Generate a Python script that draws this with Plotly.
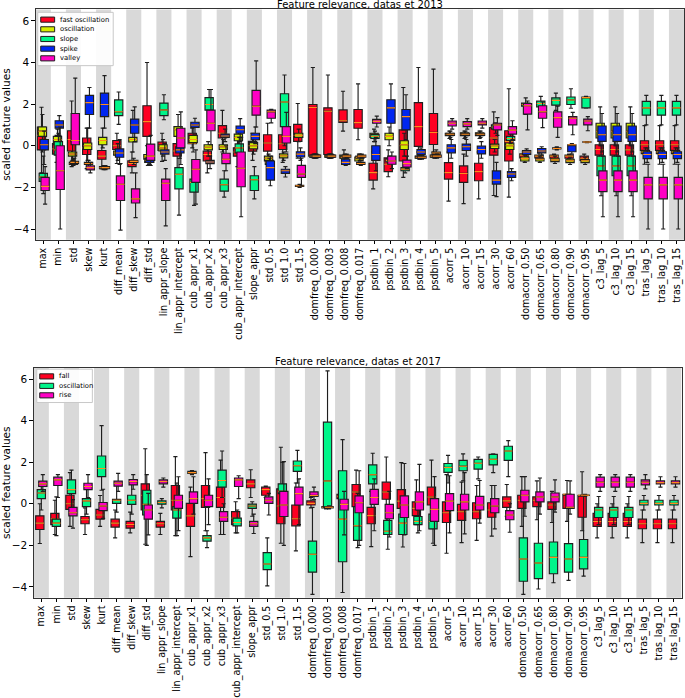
import plotly.graph_objects as go

features = ["max", "min", "std", "skew", "kurt", "diff_mean", "diff_skew", "diff_std",
            "lin_appr_slope", "lin_appr_intercept", "cub_appr_x1", "cub_appr_x2", "cub_appr_x3",
            "cub_appr_intercept", "slope_appr", "std_0.5", "std_1.0", "std_1.5",
            "domfreq_0.000", "domfreq_0.003", "domfreq_0.008", "domfreq_0.017",
            "psdbin_1", "psdbin_2", "psdbin_3", "psdbin_4", "psdbin_5",
            "acorr_5", "acorr_10", "acorr_15", "acorr_30", "acorr_60",
            "domacorr_0.50", "domacorr_0.65", "domacorr_0.80", "domacorr_0.90", "domacorr_0.95",
            "c3_lag_5", "c3_lag_10", "c3_lag_15", "tras_lag_5", "tras_lag_10", "tras_lag_15"]

# each tuple: (lower whisker, q1, median, q3, upper whisker)
fast_oscillation_2013 = [
    (-1.3, -0.2, 0.5, 0.9, 1.85), (-0.8, -0.4, -0.15, 0.1, 0.5), (-1.0, -0.25, 0.3, 0.72, 2.15),
    (-1.1, -0.42, -0.1, 0.37, 0.85), (-1.1, -0.65, -0.5, -0.23, 0.35), (-0.85, -0.18, 0.0, 0.25, 0.6),
    (-1.3, -1.0, -0.85, -0.72, -0.3), (0.0, 0.45, 1.16, 1.92, 4.0), (-0.75, -0.23, 0.0, 0.18, 0.6),
    (-1.3, -0.5, -0.25, 0.1, 0.5), (-0.1, 0.1, 0.12, 0.6, 0.85), (-1.3, -0.73, -0.42, -0.26, -0.1),
    (-0.3, 0.37, 0.6, 0.97, 1.7), (-1.0, -0.5, -0.3, -0.1, 0.3), (-0.7, -0.26, 0.0, 0.21, 0.6),
    (-0.75, -0.26, 0.13, 0.53, 1.08), (-0.8, -0.18, 0.1, 0.53, 1.2), (-0.6, 0.21, 0.5, 1.03, 2.03),
    (-0.55, -0.5, 1.84, 1.98, 3.76), (-0.5, -0.42, 1.66, 1.82, 3.4), (0.7, 1.12, 1.2, 1.72, 2.62),
    (0.29, 0.84, 1.11, 1.74, 2.97), (-2.07, -1.65, -1.29, -0.84, -0.3), (-1.49, -1.24, -0.89, -0.58, -0.2),
    (-1.52, -0.73, 0.0, 0.76, 2.8), (-0.3, -0.03, 0.92, 2.07, 3.76), (-0.3, 0.06, 0.64, 1.55, 3.68),
    (-2.66, -1.6, -1.29, -0.81, -0.3), (-2.78, -1.76, -1.33, -0.97, -0.4), (-2.55, -1.68, -1.24, -0.84, -0.3),
    (-2.39, -0.45, 0.37, 0.87, 1.63), (-2.47, -0.73, 0.21, 0.72, 2.74), (-0.65, -0.58, -0.45, -0.39, -0.3),
    (-0.65, -0.58, -0.5, -0.45, -0.35), (-0.65, -0.6, -0.5, -0.45, -0.4), (-0.65, -0.6, -0.5, -0.45, -0.4),
    (-0.8, -0.7, -0.6, -0.5, -0.4), (-0.9, -0.45, -0.18, 0.05, 0.6), (-0.9, -0.45, -0.18, 0.05, 0.6),
    (-0.9, -0.45, -0.2, 0.05, 0.6), (-0.89, -0.23, 0.05, 0.24, 0.97), (-0.89, -0.23, 0.05, 0.24, 0.97),
    (-0.89, -0.23, 0.05, 0.24, 0.97)]

oscillation_2013 = [
    (-0.3, 0.45, 0.7, 0.9, 1.5), (-0.3, 0.05, 0.3, 0.45, 0.8), (-0.7, -0.5, -0.4, -0.3, 0.2),
    (-0.7, -0.18, 0.0, 0.13, 0.85), (-0.1, 0.05, 0.25, 0.4, 0.85), (-0.7, -0.45, -0.35, -0.25, 0.1),
    (-0.3, 0.18, 0.3, 0.4, 1.7), (-0.95, -0.65, -0.55, -0.42, -0.3), (-0.5, -0.25, -0.1, 0.05, 0.3),
    (0.1, 0.45, 0.77, 0.92, 1.5), (-0.3, 0.15, 0.3, 0.5, 0.9), (-0.5, -0.2, -0.07, 0.05, 0.2),
    (-0.4, -0.18, -0.05, 0.05, 0.3), (0.0, 0.24, 0.4, 0.56, 0.9), (-0.4, -0.15, 0.0, 0.15, 0.4),
    (-0.85, -0.73, -0.6, -0.5, -0.4), (-0.7, -0.58, -0.48, -0.39, -0.3), (0.2, 0.4, 0.5, 0.6, 0.8),
    (-0.6, -0.55, -0.5, -0.45, -0.4), (-0.6, -0.55, -0.5, -0.45, -0.4), (-0.75, -0.6, -0.55, -0.45, -0.2),
    (-0.85, -0.73, -0.62, -0.54, -0.4), (0.2, 0.4, 0.5, 0.6, 0.8), (0.0, 0.29, 0.45, 0.6, 0.9),
    (-0.5, -0.18, 0.05, 0.24, 0.6), (-0.65, -0.6, -0.55, -0.5, -0.45), (-0.6, -0.55, -0.5, -0.45, -0.4),
    (0.35, 0.48, 0.55, 0.6, 0.7), (0.35, 0.48, 0.55, 0.62, 0.7), (0.35, 0.48, 0.55, 0.62, 0.7),
    (-0.3, -0.13, 0.0, 0.08, 0.3), (-0.4, -0.18, 0.0, 0.13, 0.4), (-0.8, -0.73, -0.62, -0.54, -0.45),
    (-0.8, -0.73, -0.65, -0.6, -0.5), (-0.85, -0.76, -0.68, -0.6, -0.5), (-0.9, -0.81, -0.72, -0.65, -0.55),
    (-0.9, -0.81, -0.72, -0.66, -0.55), (0.0, 0.37, 0.7, 1.08, 1.87), (0.0, 0.37, 0.7, 1.08, 1.87),
    (0.0, 0.37, 0.7, 1.08, 1.87), (-0.5, -0.38, -0.3, -0.22, -0.1), (-0.5, -0.38, -0.3, -0.22, -0.1),
    (-0.5, -0.38, -0.3, -0.22, -0.1)]

slope_2013 = [
    (-2.3, -1.71, -1.5, -1.33, -0.5), (-0.9, -0.45, -0.2, 0.2, 0.6), (-0.95, -0.9, -0.85, -0.8, -0.6),
    (-1.0, -0.9, -0.85, -0.8, -0.7), (-1.15, -1.1, -1.05, -1.0, -0.95), (1.03, 1.45, 1.63, 2.2, 2.58),
    (-0.9, -0.8, -0.75, -0.7, -0.6), (-0.9, -0.8, -0.7, -0.6, -0.5), (1.25, 1.45, 1.72, 2.05, 2.45),
    (-3.33, -2.07, -1.37, -1.05, -0.6), (-2.86, -2.23, -1.76, -1.6, -1.2), (1.2, 1.71, 1.98, 2.31, 2.7),
    (-2.47, -2.18, -1.87, -1.6, -1.2), (-0.6, -0.34, -0.1, 0.09, 0.4), (-2.55, -2.15, -1.63, -1.44, -1.0),
    (-1.0, -0.9, -0.8, -0.7, -0.6), (0.0, 0.92, 2.1, 2.5, 3.4), (-2.0, -1.95, -1.92, -1.9, -1.85),
    (-0.6, -0.55, -0.5, -0.45, -0.4), (-0.6, -0.55, -0.5, -0.45, -0.4), (-0.7, -0.6, -0.55, -0.5, -0.4),
    (-0.7, -0.6, -0.55, -0.5, -0.4), (0.2, 0.35, 0.45, 0.55, 0.7), (-0.85, -0.78, -0.7, -0.62, -0.5),
    (-1.3, -1.2, -1.12, -1.05, -0.95), (-0.65, -0.6, -0.55, -0.5, -0.45), (-0.6, -0.55, -0.5, -0.45, -0.4),
    (0.4, 0.5, 0.55, 0.6, 0.7), (0.4, 0.5, 0.55, 0.6, 0.7), (0.4, 0.5, 0.55, 0.6, 0.7),
    (0.6, 0.8, 0.9, 1.0, 1.1), (0.1, 0.25, 0.35, 0.45, 0.6), (1.5, 1.9, 1.98, 2.05, 2.3),
    (1.6, 1.87, 2.03, 2.14, 2.37), (1.7, 1.95, 2.18, 2.3, 2.53), (1.8, 1.98, 2.2, 2.34, 2.74),
    (1.8, 1.82, 2.31, 2.34, 2.37), (-2.4, -1.44, -0.97, -0.5, 0.0), (-2.4, -1.44, -0.97, -0.5, 0.0),
    (-2.4, -1.44, -0.97, -0.5, 0.0), (1.0, 1.47, 1.82, 2.13, 2.42), (1.0, 1.47, 1.82, 2.13, 2.42),
    (1.0, 1.47, 1.82, 2.13, 2.42)]

spike_2013 = [
    (-0.9, -0.2, 0.05, 0.3, 0.7), (0.5, 0.85, 1.0, 1.2, 1.45), (-0.9, -0.85, -0.8, -0.75, -0.6),
    (0.85, 1.5, 2.07, 2.42, 2.8), (0.85, 1.4, 1.98, 2.53, 3.37), (-0.9, -0.55, -0.35, -0.15, 0.3),
    (0.2, 0.6, 1.0, 1.28, 1.87), (-0.9, -0.8, -0.7, -0.6, -0.5), (-0.7, -0.4, -0.3, -0.2, 0.1),
    (-0.6, -0.35, -0.2, -0.05, 0.2), (0.5, 0.88, 1.0, 1.13, 1.32), (-1.1, -0.86, -0.78, -0.7, -0.5),
    (0.2, 0.4, 0.47, 0.56, 0.8), (0.2, 0.6, 0.77, 0.95, 1.3), (0.1, 0.29, 0.45, 0.6, 0.9),
    (-1.92, -1.65, -1.05, -0.73, -0.5), (-1.5, -1.33, -1.2, -1.13, -1.0), (-0.7, -0.54, -0.4, -0.29, -0.1),
    (-0.6, -0.55, -0.5, -0.45, -0.4), (-0.6, -0.55, -0.5, -0.45, -0.4), (-0.95, -0.9, -0.8, -0.65, -0.5),
    (-0.95, -0.9, -0.85, -0.8, -0.7), (-1.2, -0.7, -0.42, 0.0, 0.4), (0.6, 1.08, 1.82, 2.21, 2.97),
    (0.3, 0.76, 1.4, 1.74, 2.45), (-0.5, -0.42, -0.3, -0.18, -0.1), (-0.45, -0.4, -0.35, -0.3, -0.2),
    (-0.6, -0.34, -0.1, 0.05, 0.3), (-0.5, -0.23, -0.05, 0.08, 0.3), (-0.6, -0.39, -0.18, -0.02, 0.2),
    (-2.44, -1.84, -1.65, -1.21, -0.8), (-1.68, -1.52, -1.36, -1.24, -1.1), (-0.5, -0.42, -0.3, -0.23, -0.15),
    (-0.45, -0.34, -0.25, -0.13, -0.05), (-0.2, -0.15, -0.13, -0.1, -0.05), (-0.4, -0.29, 0.05, 0.05, 0.1),
    (0.15, 0.17, 0.18, 0.19, 0.2), (-0.3, 0.21, 0.53, 0.95, 1.55), (-0.3, 0.21, 0.53, 0.95, 1.55),
    (-0.3, 0.21, 0.53, 0.95, 1.55), (-0.8, -0.62, -0.42, -0.29, -0.1), (-0.8, -0.62, -0.42, -0.29, -0.1),
    (-0.8, -0.62, -0.42, -0.29, -0.1)]

valley_2013 = [
    (-2.8, -2.15, -1.95, -1.52, -1.0), (-4.0, -2.1, -1.2, 0.0, 0.9), (-0.9, 0.05, 0.25, 1.55, 3.25),
    (-1.3, -1.16, -1.05, -0.97, -0.8), (-1.15, -1.1, -1.05, -1.0, -0.95), (-4.05, -2.63, -1.85, -1.45, -0.85),
    (-3.45, -2.75, -2.55, -2.07, -1.3), (-0.95, -0.7, -0.5, 0.08, 0.5), (-3.85, -2.63, -1.8, -1.6, -1.1),
    (-0.9, -0.1, 0.37, 0.84, 1.63), (-2.8, -1.76, -1.13, -0.66, -0.2), (0.05, 0.72, 1.08, 1.71, 2.7),
    (-1.2, -0.86, -0.65, -0.36, 0.0), (-3.41, -1.97, -1.08, -0.3, 0.4), (0.9, 1.47, 1.9, 2.66, 4.08),
    (1.1, 1.32, 1.63, 1.71, 1.75), (-0.3, 0.13, 0.45, 0.92, 1.6), (-1.92, -1.52, -1.36, -0.94, -0.6),
    (-0.6, -0.55, -0.5, -0.45, -0.4), (-0.6, -0.55, -0.5, -0.45, -0.4), (-0.6, -0.55, -0.5, -0.45, -0.4),
    (-0.6, -0.55, -0.5, -0.45, -0.4), (0.9, 1.08, 1.17, 1.27, 1.42), (-1.1, -0.89, -0.73, -0.5, -0.3),
    (-1.1, -1.02, -0.86, -0.69, -0.5), (-0.65, -0.6, -0.55, -0.5, -0.45), (-0.6, -0.55, -0.5, -0.45, -0.4),
    (0.8, 0.95, 1.08, 1.19, 1.3), (0.8, 0.92, 1.05, 1.16, 1.3), (0.85, 1.0, 1.08, 1.19, 1.3),
    (0.5, 0.76, 1.0, 1.08, 1.35), (0.3, 0.56, 0.75, 0.92, 1.2), (0.76, 1.52, 1.92, 2.03, 2.15),
    (0.87, 1.32, 1.63, 1.92, 2.1), (0.4, 0.89, 1.35, 1.63, 1.9), (0.53, 1.0, 1.32, 1.4, 1.6),
    (0.72, 1.0, 1.19, 1.28, 1.4), (-3.41, -2.2, -1.65, -1.21, -0.5), (-3.41, -2.2, -1.65, -1.21, -0.5),
    (-3.41, -2.2, -1.65, -1.21, -0.5), (-4.0, -2.55, -1.88, -1.52, -0.89), (-4.0, -2.55, -1.88, -1.52, -0.89),
    (-4.0, -2.55, -1.88, -1.52, -0.89)]

fall_2017 = [
    (-1.91, -1.24, -0.93, -0.58, 0.0), (-1.48, -1.0, -0.72, -0.46, 0.17), (-1.09, -0.27, 0.0, 0.41, 1.5),
    (-1.48, -0.96, -0.77, -0.61, -0.2), (-1.09, -0.74, -0.54, -0.27, 0.4), (-1.64, -1.12, -0.93, -0.74, -0.3),
    (-1.4, -1.17, -1.0, -0.85, -0.4), (-1.95, -0.3, 0.41, 0.96, 2.65), (-1.48, -1.12, -0.96, -0.85, -0.46),
    (-1.53, -0.3, 0.17, 0.88, 2.27), (-2.54, -1.09, -0.58, 0.02, 0.8), (-1.3, -0.17, 0.25, 0.88, 2.46),
    (-1.48, -0.17, 0.3, 0.8, 2.1), (-1.4, -1.0, -0.69, -0.38, 0.1), (0.3, 0.77, 0.96, 1.15, 1.64),
    (0.3, 0.41, 0.68, 0.8, 0.85), (-1.9, -0.96, -0.11, 0.72, 2.72), (-2.27, -1.06, -0.72, -0.06, 1.0),
    (-0.2, -0.06, 0.02, 0.14, 0.3), (-0.25, -0.2, -0.17, -0.14, -0.1), (0.2, 0.25, 0.36, 0.46, 0.5),
    (-1.3, -0.14, 0.57, 0.93, 1.62), (-2.06, -0.96, -0.57, -0.17, 0.6), (-1.0, 0.22, 0.57, 1.04, 2.25),
    (-1.3, -0.22, 0.13, 0.68, 1.98), (-1.0, -0.57, -0.22, 0.09, 1.15), (-1.2, -0.06, 0.33, 0.8, 2.1),
    (-2.38, -0.9, -0.43, 0.09, 1.4), (-1.87, -0.8, -0.38, -0.03, 1.04), (-1.76, -0.72, -0.38, 0.05, 0.88),
    (-1.56, -0.65, -0.3, 0.05, 0.88), (-0.6, -0.17, 0.14, 0.33, 0.93), (-1.09, -0.22, 0.17, 0.41, 1.31),
    (-0.77, -0.14, 0.17, 0.33, 1.1), (-0.9, -0.27, -0.06, 0.09, 0.6), (-0.85, -0.22, 0.46, 0.46, 1.12),
    (-1.3, -0.65, 0.41, 0.41, 1.54), (-1.64, -1.09, -0.85, -0.46, 0.0), (-1.64, -1.09, -0.85, -0.46, 0.0),
    (-1.64, -1.09, -0.85, -0.46, 0.0), (-1.87, -1.2, -0.96, -0.74, -0.3), (-1.87, -1.2, -0.96, -0.74, -0.3),
    (-1.87, -1.2, -0.96, -0.74, -0.3)]

oscillation_2017 = [
    (-0.3, 0.25, 0.52, 0.68, 0.95), (-1.53, -1.09, -0.93, -0.74, 0.33), (-0.5, 0.49, 0.68, 1.15, 1.62),
    (-0.5, -0.14, 0.14, 0.25, 0.7), (0.65, 1.31, 1.7, 2.3, 3.76), (-0.4, 0.02, 0.17, 0.22, 0.95),
    (-0.5, -0.03, 0.17, 0.41, 0.95), (-2.0, -0.54, -0.03, 0.65, 1.4), (-0.2, -0.02, 0.06, 0.14, 0.25),
    (-1.53, -0.69, -0.3, -0.14, 1.0), (1.4, 1.46, 1.5, 1.56, 1.6), (-2.11, -1.8, -1.64, -1.53, -1.3),
    (0.3, 0.8, 1.12, 1.62, 2.54), (-1.4, -1.06, -0.9, -0.69, -0.3), (-0.6, -0.22, -0.11, -0.02, 0.1),
    (-3.95, -3.17, -2.9, -2.35, -1.64), (-0.2, 0.49, 0.6, 0.96, 2.0), (1.0, 1.56, 1.83, 2.06, 2.57),
    (-4.36, -3.29, -2.43, -1.8, -0.17), (-0.17, -0.16, 1.1, 3.93, 6.4), (-4.27, -2.79, -0.74, 1.59, 3.09),
    (-2.11, -1.76, -1.06, -0.14, 0.5), (0.3, 0.96, 1.4, 1.87, 2.43), (-2.19, -1.48, -1.32, -0.8, -0.2),
    (-2.08, -1.48, -0.93, -0.49, 0.3), (-1.4, -1.0, -0.85, -0.61, -0.3), (-1.9, -1.21, -0.85, -0.5, 0.1),
    (1.0, 1.51, 1.75, 1.94, 2.33), (1.1, 1.59, 1.81, 2.09, 2.4), (1.2, 1.67, 1.95, 2.14, 2.25),
    (1.5, 1.87, 2.14, 2.38, 2.4), (1.31, 2.09, 2.54, 2.77, 3.04), (-4.36, -3.73, -2.66, -1.64, 0.5),
    (-4.1, -3.6, -2.85, -1.9, 0.4), (-3.8, -3.37, -2.58, -1.84, 0.3), (-3.69, -3.29, -2.66, -1.92, 0.2),
    (-3.48, -3.13, -2.58, -1.72, 0.4), (-1.0, -0.66, -0.3, -0.17, 0.35), (-1.0, -0.66, -0.3, -0.17, 0.35),
    (-1.0, -0.66, -0.3, -0.17, 0.35), (-0.3, -0.06, 0.02, 0.17, 0.4), (-0.3, -0.06, 0.02, 0.17, 0.4),
    (-0.3, -0.06, 0.02, 0.17, 0.4)]

rise_2017 = [
    (0.6, 0.83, 0.96, 1.09, 1.4), (0.3, 0.88, 1.15, 1.28, 1.4), (-1.17, -0.58, -0.43, -0.17, 0.2),
    (0.3, 0.68, 0.83, 0.99, 1.4), (-0.7, -0.33, -0.11, 0.06, 0.7), (0.6, 0.85, 0.99, 1.09, 1.46),
    (0.7, 0.91, 1.07, 1.17, 1.4), (-1.5, -0.74, -0.3, -0.06, 0.5), (0.8, 0.96, 1.07, 1.15, 1.24),
    (-1.29, -0.22, 0.17, 0.41, 1.3), (-0.5, 0.02, 0.25, 0.57, 1.3), (-1.0, -0.14, 0.17, 0.41, 1.2),
    (-1.48, -0.85, -0.65, -0.38, 0.0), (0.25, 0.83, 1.15, 1.24, 1.35), (-1.43, -1.09, -0.96, -0.85, -0.5),
    (-0.54, 0.02, 0.17, 0.33, 0.5), (-2.0, -0.61, -0.06, 0.6, 2.03), (-1.0, -0.06, 0.49, 0.8, 1.2),
    (0.2, 0.36, 0.4, 0.57, 0.8), (-0.25, -0.2, -0.17, -0.14, -0.1), (-1.5, -0.3, -0.03, 0.22, 0.6),
    (-2.0, -0.43, 0.05, 0.38, 1.59), (-1.3, -0.03, 0.3, 0.69, 1.2), (-1.6, -0.72, -0.43, -0.03, 0.6),
    (-1.5, -0.66, -0.06, 0.38, 1.94), (-1.3, -0.3, 0.09, 0.57, 1.9), (-2.0, -0.85, -0.27, 0.25, 1.31),
    (-1.4, -0.33, 0.13, 0.49, 1.35), (-1.45, -0.3, 0.09, 0.46, 1.5), (-0.93, -0.3, -0.06, 0.36, 1.12),
    (-1.21, -0.43, -0.11, 0.25, 0.88), (-1.37, -0.77, -0.54, -0.33, 0.0), (-0.6, 0.09, 0.41, 0.65, 1.31),
    (-0.5, 0.09, 0.33, 0.57, 1.24), (-0.4, 0.09, 0.33, 0.52, 1.15), (-0.5, -0.22, -0.17, 0.46, 1.1),
    (0.35, 0.4, 0.41, 0.42, 0.45), (0.6, 0.8, 1.04, 1.28, 1.4), (0.6, 0.8, 1.04, 1.28, 1.4),
    (0.6, 0.8, 1.04, 1.28, 1.4), (0.72, 0.91, 1.04, 1.15, 1.4), (0.8, 0.95, 1.02, 1.1, 1.3),
    (0.8, 0.95, 1.02, 1.1, 1.3)]

classes_2013 = ["fast oscillation", "oscillation", "slope", "spike", "valley"]
series_2013 = [fast_oscillation_2013, oscillation_2013, slope_2013, spike_2013, valley_2013]
colors_2013 = ["#ff0022", "#d4ee00", "#00f58a", "#0026f0", "#ff00c4"]
offsets_2013 = [-0.12, -0.06, 0.0, 0.06, 0.12]

classes_2017 = ["fall", "oscillation", "rise"]
series_2017 = [fall_2017, oscillation_2017, rise_2017]
colors_2017 = ["#ff0022", "#00f58a", "#ff00c4"]
offsets_2017 = [-0.1, 0.0, 0.1]

BOX_W = 0.55
MEDIAN_COLOR = "#ff8c1a"
EDGE = "#1e1e1e"
FONT = "DejaVu Sans"

W, H = 685, 698
fig = go.Figure()


def add_panel(series, names, colors, offsets, xa, ya):
    idx = list(range(len(features)))
    for stats, name, col, off in zip(series, names, colors, offsets):
        pos = [i + off for i in idx]
        lo, q1, med, q3, hi = (list(v) for v in zip(*stats))
        fig.add_trace(go.Box(
            x=pos, lowerfence=lo, q1=q1, median=med, q3=q3, upperfence=hi,
            orientation="v", name=name, fillcolor=col, width=BOX_W, whiskerwidth=0.5,
            line=dict(color=EDGE, width=1.15), boxpoints=False, hoverinfo="skip",
            xaxis=xa, yaxis=ya, showlegend=False))
        # median line drawn as a flat box so it keeps the box drawing order
        fig.add_trace(go.Box(
            x=pos, lowerfence=med, q1=med, median=med, q3=med, upperfence=med,
            orientation="v", name=name + " median", fillcolor="rgba(0,0,0,0)", width=BOX_W * 0.98,
            whiskerwidth=0, line=dict(color=MEDIAN_COLOR, width=1.1), boxpoints=False,
            hoverinfo="skip", xaxis=xa, yaxis=ya, showlegend=False))


add_panel(series_2013, classes_2013, colors_2013, offsets_2013, "x", "y")
add_panel(series_2017, classes_2017, colors_2017, offsets_2017, "x2", "y2")

shapes = []
for xr, yr in (("x", "y domain"), ("x2", "y2 domain")):
    for i in range(0, len(features), 2):
        shapes.append(dict(type="rect", xref=xr, yref=yr, x0=i - 0.5, x1=i + 0.5, y0=0, y1=1,
                           fillcolor="#d9d9d9", line=dict(width=0), layer="below"))

annotations = []


def px_x(v):
    return v / W


def px_y(v):
    return 1 - v / H


def add_legend(names, colors, left, top, width, row_h):
    height = row_h * len(names) + 5
    shapes.append(dict(type="rect", xref="paper", yref="paper", x0=px_x(left), x1=px_x(left + width),
                       y0=px_y(top + height), y1=px_y(top), fillcolor="rgba(255,255,255,0.92)",
                       line=dict(color="#c8c8c8", width=1), layer="above"))
    for k, (nm, col) in enumerate(zip(names, colors)):
        cy = top + 2.5 + row_h * (k + 0.5)
        shapes.append(dict(type="rect", xref="paper", yref="paper", x0=px_x(left + 3), x1=px_x(left + 17),
                           y0=px_y(cy + 2.6), y1=px_y(cy - 2.6), fillcolor=col,
                           line=dict(color=EDGE, width=1), layer="above"))
        annotations.append(dict(text=nm, x=px_x(left + 20), y=px_y(cy), xref="paper", yref="paper",
                                xanchor="left", yanchor="middle", showarrow=False,
                                font=dict(family=FONT, size=6.8, color="#000000")))


add_legend(classes_2013, colors_2013, 33, 12.5, 76, 9.8)
add_legend(classes_2017, colors_2017, 32, 374, 56, 9.6)

annotations += [
    dict(text="Feature relevance, datas et 2013", x=px_x((31 + 684) / 2), y=px_y(4.6),
         xref="paper", yref="paper", xanchor="center", yanchor="middle", showarrow=False,
         font=dict(family=FONT, size=10, color="#000")),
    dict(text="Feature relevance, datas et 2017", x=px_x((29 + 681.5) / 2), y=px_y(366),
         xref="paper", yref="paper", xanchor="center", yanchor="middle", showarrow=False,
         font=dict(family=FONT, size=10, color="#000")),
]

top_dom = [px_y(243), px_y(9.5)]
bot_dom = [px_y(605.5), px_y(372.5)]

xcommon = dict(range=[-0.5, len(features) - 0.5], tickmode="array", tickvals=list(range(len(features))),
               ticktext=features, tickangle=-90, ticks="outside", ticklen=3, tickcolor="#000",
               tickfont=dict(family=FONT, size=9.6, color="#000"), showgrid=False, zeroline=False,
               showline=True, linecolor="#333", linewidth=1, mirror=True)
ycommon = dict(range=[-4.52, 6.55], tickmode="array", tickvals=[-4, -2, 0, 2, 4, 6],
               ticks="outside", ticklen=3.5, tickcolor="#000",
               tickfont=dict(family=FONT, size=10.5, color="#000"), showgrid=False, zeroline=False,
               showline=True, linecolor="#333", linewidth=1, mirror=True,
               title=dict(text="scaled feature values", font=dict(family=FONT, size=10.5, color="#000"),
                          standoff=4))

fig.update_layout(
    width=W, height=H, margin=dict(l=0, r=0, t=0, b=0), autosize=False,
    paper_bgcolor="white", plot_bgcolor="white", boxmode="overlay", showlegend=False,
    xaxis=dict(domain=[px_x(31), px_x(684)], anchor="y", **xcommon),
    yaxis=dict(domain=top_dom, anchor="x", **ycommon),
    xaxis2=dict(domain=[px_x(29), px_x(681.5)], anchor="y2", **xcommon),
    yaxis2=dict(domain=bot_dom, anchor="x2", **ycommon),
    shapes=shapes,
    annotations=annotations,
)

fig.write_html("out.html", config={"displayModeBar": False, "staticPlot": True},
               post_script="document.body.style.margin='0';document.body.style.overflow='hidden';")
